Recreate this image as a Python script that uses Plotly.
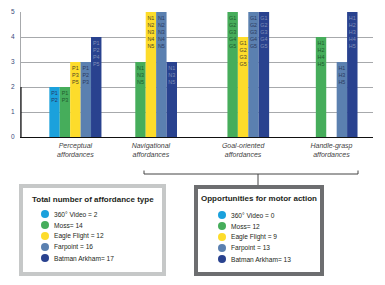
import plotly.graph_objects as go

categories = ["Perceptual<br>affordances", "Navigational<br>affordances",
              "Goal-oriented<br>affordances", "Handle-grasp<br>affordances"]
series_names = ["360° Video", "Moss", "Eagle Flight", "Farpoint", "Batman Arkham"]
video360 = [2, 0, 0, 0]
moss = [2, 3, 5, 4]
eagle_flight = [3, 5, 4, 0]
farpoint = [3, 5, 5, 3]
batman = [4, 3, 5, 5]
video360_lbl = ["P1<br>P2", "", "", ""]
moss_lbl = ["P1<br>P3", "N1<br>N3<br>N5", "G1<br>G2<br>G3<br>G4<br>G5", "H1<br>H2<br>H4<br>H5"]
eagle_lbl = ["P1<br>P3<br>P5", "N1<br>N2<br>N3<br>N4<br>N5", "G1<br>G2<br>G3<br>G5", ""]
farpoint_lbl = ["P1<br>P2<br>P3", "N1<br>N2<br>N3<br>N4<br>N5", "G1<br>G2<br>G3<br>G4<br>G5", "H1<br>H3<br>H5"]
batman_lbl = ["P1<br>P2<br>P4<br>P5", "N1<br>N3<br>N5", "G1<br>G2<br>G3<br>G4<br>G5", "H1<br>H2<br>H3<br>H4<br>H5"]
y_ticks = [0, 1, 2, 3, 4, 5]
legend_suffix = [" = ", "= ", " = ", " = ", "= "]

values = [video360, moss, eagle_flight, farpoint, batman]
labels = [video360_lbl, moss_lbl, eagle_lbl, farpoint_lbl, batman_lbl]
colors = ["#1ba1dc", "#46ad5b", "#fddc2b", "#5b80b0", "#29428f"]
txt_colors = ["#243a6a", "#1f5a2e", "#4d4526", "#2c3b5e", "#8090b8"]

W, H = 385, 285
L, R, T, B = 21, 12, 12, 148
PW, PH = W - L - R, H - T - B
group_pos = [0, 1, 2.22, 3.39]
bw = 0.138

def px(x):
    return (x - L) / PW

def py(y):
    return (H - B - y) / PH

fig = go.Figure()
for i, (nm, v, lb) in enumerate(zip(series_names, values, labels)):
    fig.add_trace(go.Bar(
        x=group_pos, y=v, name=nm, text=lb, width=bw, offset=(i - 2.5) * bw,
        marker=dict(color=colors[i], line=dict(width=0)),
        textposition="inside", insidetextanchor="end", textangle=0,
        textfont=dict(size=5.4, color=txt_colors[i], family="Liberation Sans"),
        cliponaxis=False, hoverinfo="skip"))

fig.update_layout(
    width=W, height=H, margin=dict(l=L, r=R, t=T, b=B, autoexpand=False),
    paper_bgcolor="white", plot_bgcolor="white", showlegend=False,
    barmode="overlay", font=dict(family="Liberation Sans", color="#333"),
    uniformtext=dict(minsize=4, mode="show"),
)
fig.update_xaxes(range=[-0.72, 3.94], tickvals=group_pos,
                 ticktext=["<i>" + c + "</i>" for c in categories],
                 tickfont=dict(size=7, color="#444"), showgrid=False,
                 showline=True, linecolor="#111", linewidth=1.2, zeroline=False,
                 ticks="", automargin=False, ticklabelstandoff=1)
fig.update_yaxes(range=[0, 5], tickvals=y_ticks, showgrid=True, gridcolor="#a7a9ac",
                 gridwidth=1, tickfont=dict(size=6.5, color="#3a4a7a"),
                 showline=True, linecolor="#a7a9ac", linewidth=1, zeroline=False,
                 ticklabelstandoff=4, ticks="", automargin=False)

shapes = []
shapes.append(dict(type="line", xref="paper", yref="y", x0=0, x1=0, y0=0, y1=2,
                   line=dict(color="#111", width=1.2)))
bc = "#444"
shapes.append(dict(type="line", xref="paper", yref="paper", x0=px(144), x1=px(358),
                   y0=py(174), y1=py(174), line=dict(color=bc, width=1)))
shapes.append(dict(type="line", xref="paper", yref="paper", x0=px(144), x1=px(144),
                   y0=py(174), y1=py(170.5), line=dict(color=bc, width=1)))
shapes.append(dict(type="line", xref="paper", yref="paper", x0=px(358), x1=px(358),
                   y0=py(174), y1=py(170.5), line=dict(color=bc, width=1)))
shapes.append(dict(type="line", xref="paper", yref="paper", x0=px(258), x1=px(258),
                   y0=py(174), y1=py(186), line=dict(color=bc, width=1)))
shapes.append(dict(type="rect", xref="paper", yref="paper", x0=px(21), x1=px(164),
                   y0=py(186), y1=py(274), line=dict(color="#c6c8c8", width=4),
                   fillcolor="white"))
shapes.append(dict(type="rect", xref="paper", yref="paper", x0=px(196), x1=px(322),
                   y0=py(187), y1=py(274), line=dict(color="#6d6e70", width=4),
                   fillcolor="white"))

annotations = []
totals = [sum(v) for v in values]
motor = [sum(v[1:]) for v in values]

def legend_block(title, tx, ty, cx, cy0, nums):
    annotations.append(dict(text="<b>" + title + "</b>", xref="paper", yref="paper",
                            x=px(tx), y=py(ty), xanchor="left", yanchor="middle",
                            showarrow=False, font=dict(size=8, color="#231f20")))
    for k in range(5):
        cy = cy0 + k * 11
        r = 4
        shapes.append(dict(type="circle", xref="paper", yref="paper",
                           x0=px(cx - r), x1=px(cx + r), y0=py(cy + r), y1=py(cy - r),
                           fillcolor=colors[k], line=dict(width=0)))
        annotations.append(dict(text=series_names[k] + legend_suffix[k] + str(nums[k]),
                                xref="paper", yref="paper", x=px(cx + 6.5), y=py(cy),
                                xanchor="left", yanchor="middle", showarrow=False,
                                font=dict(size=6.6, color="#231f20")))

legend_block("Total number of affordance type", 30, 199, 45, 214, totals)
legend_block("Opportunities for motor action", 199, 198, 222, 215, motor)

fig.update_layout(shapes=shapes, annotations=annotations)
fig.write_html("out.html", post_script="document.body.style.margin='0';",
               config={"displayModeBar": False})
